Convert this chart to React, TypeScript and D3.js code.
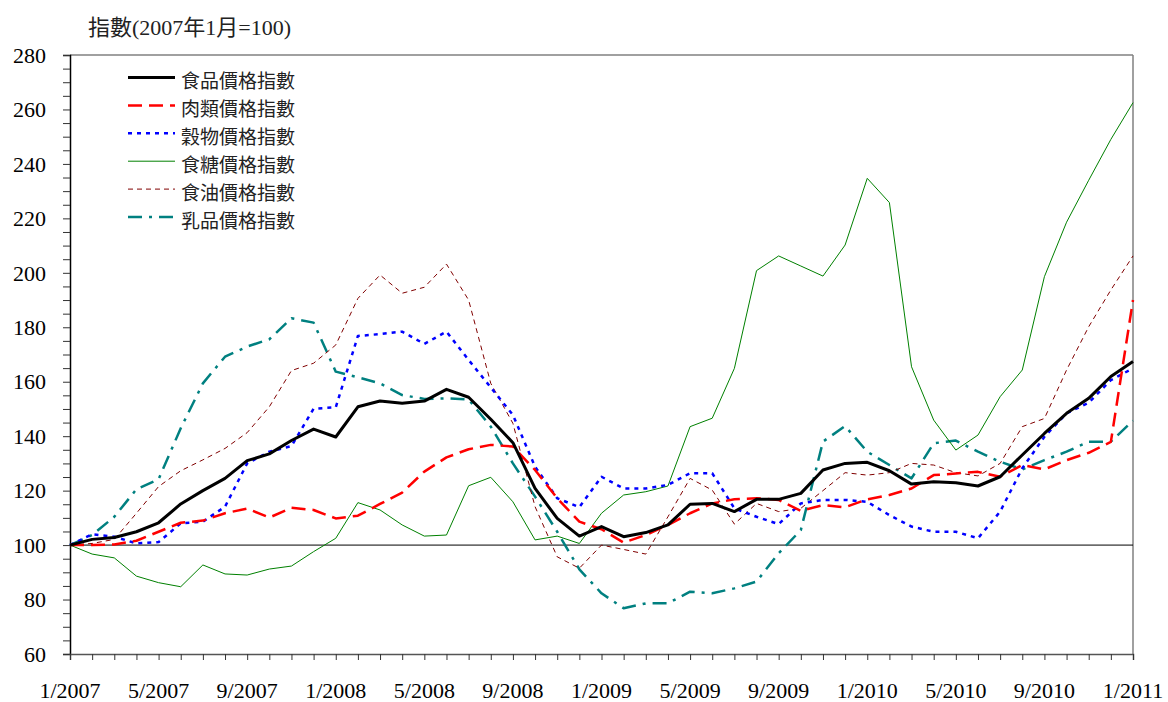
import { useEffect, useRef } from "react";
import * as d3 from "d3";

const width = 1168;
const height = 702;

// monthly index, 1/2007 .. 1/2011 (49 months)
const food = [100, 102.1, 102.8, 104.9, 108.2, 115.1, 120, 124.5, 131, 133.5, 138.4, 142.6, 139.7, 150.8, 152.9, 152.1, 152.9, 157.2, 154.3, 146.2, 137.6, 120.8, 109.8, 103.3, 106.8, 103.1, 104.6, 107.4, 115, 115.3, 112.3, 116.8, 116.8, 119, 127.6, 130, 130.4, 127.3, 122.4, 123.3, 122.9, 121.7, 125.1, 133.1, 141, 148.4, 153.9, 161.9, 167.4];
const meat = [100, 100, 100.2, 101.6, 104.9, 108.2, 109, 111.7, 113.4, 110.1, 113.7, 112.9, 109.8, 110.8, 115.1, 119.3, 127, 132.2, 135.2, 136.8, 136.2, 127.6, 117.2, 108.6, 105.8, 100.9, 103.7, 107.4, 111.7, 115.3, 116.8, 117.2, 116.6, 112.6, 114.7, 113.9, 116.8, 118.4, 120.8, 125.7, 126.3, 126.9, 125.1, 129.4, 127.8, 131.2, 133.9, 137.9, 190];
const cereal = [100, 104, 103.1, 100.6, 101.1, 108, 108.6, 114.1, 130, 134.3, 136.4, 150.1, 150.6, 176.8, 177.5, 178.4, 173.9, 178.4, 168, 157.9, 147.8, 128.8, 117.2, 113.9, 125.1, 120.8, 120.8, 122.1, 126.4, 126.4, 113.5, 110.4, 107.7, 115.3, 116.6, 116.6, 115.9, 111, 106.8, 104.9, 104.9, 102.5, 112.3, 128.2, 139.8, 148.4, 152.3, 160.6, 164.9];
const sugar = [100, 96.7, 95.3, 88.6, 86.2, 84.7, 92.7, 89.4, 89, 91.2, 92.3, 97.6, 102.5, 115.6, 112.9, 107.4, 103.3, 103.7, 121.8, 124.9, 115.9, 101.9, 103.3, 100.6, 111.7, 118.4, 119.6, 121.7, 143.5, 146.6, 164.9, 200.8, 206.2, 202.5, 198.8, 210.2, 234.7, 225.8, 165.5, 145.9, 134.9, 140.4, 154.5, 164.3, 198.6, 218.6, 234, 249, 262.5];
const oil = [100, 100.6, 102.1, 111.7, 121.5, 127.3, 131.3, 135.5, 141.3, 150.8, 164.1, 166.8, 173.5, 190.6, 199.2, 192.5, 194.7, 203.2, 190, 159.4, 144.7, 114.1, 95.7, 91.5, 100, 98.4, 96.7, 110.4, 124.5, 120.2, 107.7, 115.3, 112.3, 113.5, 120, 126.6, 125.7, 126.6, 130, 129.4, 126.6, 125.4, 130, 143.5, 146.5, 164.3, 180.2, 193.7, 206.2];
const dairy = [100, 103.7, 110.4, 120.5, 124.2, 142.9, 159.4, 169.2, 172.9, 175.6, 183.3, 181.7, 163.7, 161.6, 159.4, 155.1, 153.7, 153.9, 153.5, 143.5, 130, 117.8, 104.9, 91.1, 82.3, 76.8, 78.6, 78.6, 82.9, 82.3, 84.1, 86.6, 97, 105.5, 138, 143.7, 134.3, 129.4, 124.5, 137.4, 138.4, 134.3, 130.6, 127.8, 131.2, 134.3, 138, 138, 145.7];

const seriesNames = ["食品價格指數", "肉類價格指數", "穀物價格指數", "食糖價格指數", "食油價格指數", "乳品價格指數"];
const xTickLabels = ["1/2007", "5/2007", "9/2007", "1/2008", "5/2008", "9/2008", "1/2009", "5/2009", "9/2009", "1/2010", "5/2010", "9/2010", "1/2011"];
const yTicks = [60, 80, 100, 120, 140, 160, 180, 200, 220, 240, 260, 280];

const styles = [
  { color: "#000000", w: 3, dash: "" },
  { color: "#FF0000", w: 2.5, dash: "14,7" },
  { color: "#0000FF", w: 2.5, dash: "4,5" },
  { color: "#008000", w: 1, dash: "" },
  { color: "#800000", w: 1, dash: "5,4" },
  { color: "#008080", w: 2.5, dash: "14,7,3,7" },
];

const margin = { left: 70, right: 35, top: 55, bottom: 48 };
const serif = "'Liberation Serif', 'Times New Roman', 'Noto Sans CJK TC', serif";
const cjk = "'Noto Sans CJK TC', sans-serif";

export default function App() {
  const ref = useRef<HTMLDivElement | null>(null);

  useEffect(() => {
    if (!ref.current) return;
    document.body.style.margin = "0";
    d3.select(ref.current).selectAll("svg").remove();

    const svg = d3
      .select(ref.current)
      .append("svg")
      .attr("width", width)
      .attr("height", height)
      .style("display", "block")
      .style("background", "white");

    const all = [food, meat, cereal, sugar, oil, dairy];
    const n = food.length;
    const x = d3.scaleLinear([0, n - 1], [margin.left, width - margin.right]);
    const y = d3.scaleLinear([60, 280], [height - margin.bottom, margin.top]);
    const x0 = margin.left;
    const x1 = width - margin.right;
    const yTop = margin.top;
    const yBot = height - margin.bottom;

    // frame (top, right in grey)
    svg.append("line").attr("x1", x0).attr("x2", x1).attr("y1", yTop).attr("y2", yTop)
      .attr("stroke", "#808080").attr("stroke-width", 1.5);
    svg.append("line").attr("x1", x1).attr("x2", x1).attr("y1", yTop).attr("y2", yBot)
      .attr("stroke", "#808080").attr("stroke-width", 1.5);

    // y axis with minor ticks every 5
    const yAxis = d3.axisLeft(y).tickValues(d3.range(60, 281, 5)).tickSize(7).tickFormat(() => "");
    const yAxisG = svg.append("g").attr("transform", `translate(${x0},0)`).call(yAxis);
    yAxisG.select("path").attr("stroke", "#000").attr("stroke-width", 1.5);
    yAxisG.selectAll("line").attr("stroke", "#333");

    svg.append("g").selectAll("text").data(yTicks).enter().append("text")
      .attr("x", 46).attr("y", (d) => y(d)).attr("dy", "0.35em")
      .attr("text-anchor", "end").attr("font-family", serif).attr("font-size", 22)
      .text((d) => d);

    // x axis with a tick every month
    const xAxis = d3.axisBottom(x).tickValues(d3.range(0, n)).tickSize(6).tickFormat(() => "");
    const xAxisG = svg.append("g").attr("transform", `translate(0,${yBot})`).call(xAxis);
    xAxisG.select("path").attr("stroke", "#555").attr("stroke-width", 1.5);
    xAxisG.selectAll("line").attr("stroke", "#333");

    svg.append("g").selectAll("text").data(xTickLabels).enter().append("text")
      .attr("x", (_, i) => x(i * 4)).attr("y", 690).attr("dy", "0.35em")
      .attr("text-anchor", "middle").attr("font-family", serif).attr("font-size", 22)
      .text((d) => d);

    // reference line at 100
    svg.append("line").attr("x1", x0).attr("x2", x1).attr("y1", y(100)).attr("y2", y(100))
      .attr("stroke", "#000").attr("stroke-width", 1);

    // series, food on top
    const line = d3.line<number>().x((_, i) => x(i)).y((d) => y(d));
    [5, 4, 3, 2, 1, 0].forEach((k) => {
      svg.append("path")
        .datum(all[k])
        .attr("d", line)
        .attr("fill", "none")
        .attr("stroke", styles[k].color)
        .attr("stroke-width", styles[k].w)
        .attr("stroke-dasharray", styles[k].dash || null)
        .attr("stroke-linejoin", "round");
    });

    // legend
    const legend = svg.append("g").selectAll("g").data(seriesNames).enter().append("g")
      .attr("transform", (_, i) => `translate(128,${77.5 + i * 27.9})`);
    legend.append("line").attr("x1", 0).attr("x2", 47).attr("y1", 0).attr("y2", 0)
      .attr("stroke", (_, i) => styles[i].color)
      .attr("stroke-width", (_, i) => styles[i].w)
      .attr("stroke-dasharray", (_, i) => styles[i].dash || null);
    legend.append("text").attr("x", 53).attr("y", 4).attr("dy", "0.35em")
      .attr("font-family", cjk).attr("font-size", 19).attr("fill", "#222")
      .text((d) => d);

    // title
    svg.append("text").attr("x", 88).attr("y", 27).attr("dy", "0.35em")
      .attr("font-family", serif).attr("font-size", 22).attr("fill", "#222")
      .text("指數(2007年1月=100)");

    // eslint-disable-next-line react-hooks/exhaustive-deps
  }, []);

  return <div ref={ref} />;
}
